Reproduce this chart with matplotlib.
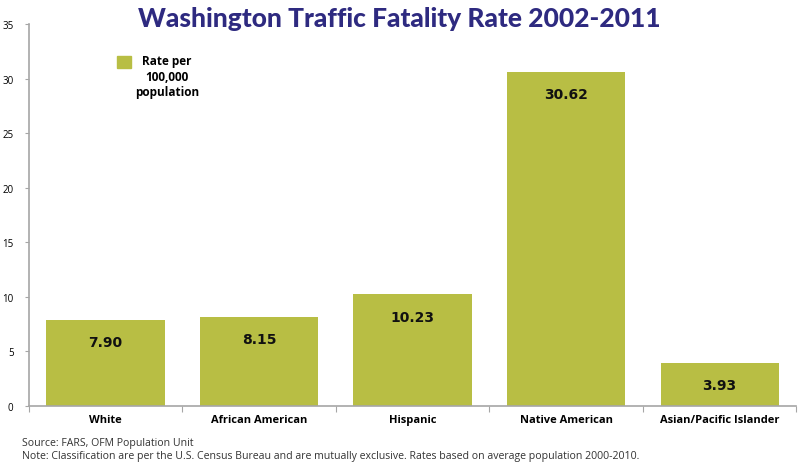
import matplotlib.pyplot as plt
import numpy as np
from matplotlib.patches import Rectangle

# datos
categorias = ["White", "African American", "Hispanic", "Native American", "Asian/Pacific Islander"]
tasas = [7.90, 8.15, 10.23, 30.62, 3.93]
etiquetas = ["7.90", "8.15", "10.23", "30.62", "3.93"]

verde = "#B8BE44"
azul = "#2E2A80"
gris = "#A6A6A6"

plt.rcParams['font.family'] = ['Open Sans', 'DejaVu Sans']

fig = plt.figure(figsize=(7.98, 4.64), dpi=100)
ax = fig.add_axes([0.036, 0.123, 0.962, 0.823])

x = np.arange(len(categorias))
ax.bar(x, tasas, width=0.77, color=verde)

for xi, v, lab in zip(x, tasas, etiquetas):
    ax.annotate(lab, (xi, v), xytext=(0, -16), textcoords="offset points",
                ha="center", va="center", fontsize=10, fontweight="bold",
                family="DejaVu Sans", color="#111111")

ax.set_xlim(-0.5, len(categorias) - 0.5)
ax.set_ylim(0, 35)
ax.set_yticks(np.arange(0, 36, 5))
ax.tick_params(axis="y", labelsize=7, length=3, color=gris, pad=8)

# ticks entre categorias, etiquetas centradas
ax.set_xticks(np.arange(-0.5, len(categorias), 1))
ax.set_xticklabels([])
ax.set_xticks(x, minor=True)
ax.set_xticklabels(categorias, minor=True, fontsize=8, fontweight="bold")
ax.tick_params(axis="x", which="major", length=4, color=gris)
ax.tick_params(axis="x", which="minor", length=0, pad=6)

for s in ["top", "right"]:
    ax.spines[s].set_visible(False)
for s in ["left", "bottom"]:
    ax.spines[s].set_color(gris)
    ax.spines[s].set_linewidth(1.2)

fig.text(0.5, 0.958, "Washington Traffic Fatality Rate 2002-2011", ha="center", va="center",
         fontsize=19, fontweight="black", family="Lato", color=azul)

# leyenda
fig.patches.append(Rectangle((0.147, 0.851), 0.017, 0.026, transform=fig.transFigure,
                             color=verde))
fig.text(0.209, 0.834, "Rate per\n100,000\npopulation", ha="center", va="center",
         fontsize=8.5, fontweight="bold", linespacing=1.25)

fig.text(0.027, 0.045, "Source: FARS, OFM Population Unit", fontsize=7.6, color="#333333", va="center")
fig.text(0.027, 0.017, "Note: Classification are per the U.S. Census Bureau and are mutually exclusive. "
         "Rates based on average population 2000-2010.", fontsize=7.6, color="#333333", va="center")

fig.savefig("out.png", dpi=100)
